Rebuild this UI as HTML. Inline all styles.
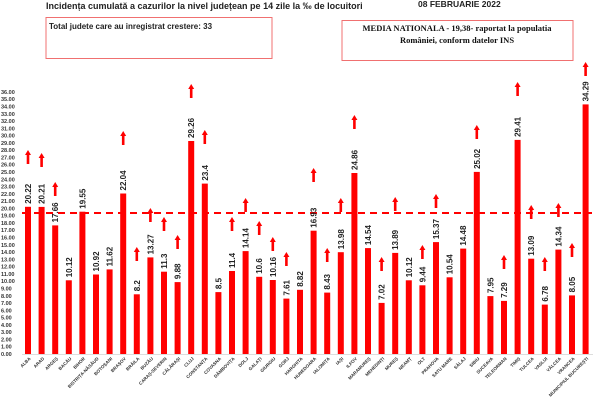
<!DOCTYPE html>
<html><head><meta charset="utf-8"><style>
html,body{margin:0;padding:0;background:#fff;}
svg{display:block;font-family:"Liberation Sans",sans-serif;}
.v{font-size:8px;font-weight:bold;fill:#222;}
.y{font-size:5.5px;font-weight:bold;fill:#333;}
.x{font-size:4.5px;font-weight:bold;fill:#333;}
</style></head><body>
<svg width="600" height="400" viewBox="0 0 600 400" xmlns="http://www.w3.org/2000/svg">
<defs>
<g id="ar"><rect x="-1.3" y="4" width="2.6" height="10" fill="#f00"/><path d="M-3,5 L0,0 L3,5 Z" fill="#f00"/></g>
</defs>
<text x="46" y="9" font-size="9" font-weight="bold" fill="#222">Incidența cumulată a cazurilor la nivel județean pe 14 zile la ‰ de locuitori</text>
<text x="418" y="7" font-size="8.5" font-weight="bold" fill="#222">08 FEBRUARIE 2022</text>
<rect x="46" y="17.5" width="226" height="41" fill="none" stroke="#f07070" stroke-width="1"/>
<text x="49" y="29" font-size="8" font-weight="bold" fill="#222">Total judete care au inregistrat crestere: 33</text>
<rect x="342" y="20.5" width="231" height="40" fill="none" stroke="#f07070" stroke-width="1"/>
<text x="457" y="31" font-size="8.5" font-weight="bold" fill="#111" text-anchor="middle" font-family="Liberation Serif, serif">MEDIA NATIONALA - 19,38-  raportat la populatia</text>
<text x="457" y="43" font-size="8.5" font-weight="bold" fill="#111" text-anchor="middle" font-family="Liberation Serif, serif">României, conform datelor INS</text>
<line x1="22" y1="354.5" x2="593" y2="354.5" stroke="#ddd" stroke-width="1"/>
<g class="y">
<text x="1" y="356">0.00</text><text x="1" y="348.7">1.00</text><text x="1" y="341.4">2.00</text><text x="1" y="334.2">3.00</text><text x="1" y="326.9">4.00</text><text x="1" y="319.6">5.00</text><text x="1" y="312.3">6.00</text><text x="1" y="305">7.00</text><text x="1" y="297.8">8.00</text><text x="1" y="290.5">9.00</text><text x="1" y="283.2">10.00</text><text x="1" y="275.9">11.00</text><text x="1" y="268.6">12.00</text><text x="1" y="261.4">13.00</text><text x="1" y="254.1">14.00</text><text x="1" y="246.8">15.00</text><text x="1" y="239.5">16.00</text><text x="1" y="232.2">17.00</text><text x="1" y="225">18.00</text><text x="1" y="217.7">19.00</text><text x="1" y="210.4">20.00</text><text x="1" y="203.1">21.00</text><text x="1" y="195.8">22.00</text><text x="1" y="188.6">23.00</text><text x="1" y="181.3">24.00</text><text x="1" y="174">25.00</text><text x="1" y="166.7">26.00</text><text x="1" y="159.4">27.00</text><text x="1" y="152.2">28.00</text><text x="1" y="144.9">29.00</text><text x="1" y="137.6">30.00</text><text x="1" y="130.3">31.00</text><text x="1" y="123">32.00</text><text x="1" y="115.8">33.00</text><text x="1" y="108.5">34.00</text><text x="1" y="101.2">35.00</text><text x="1" y="93.9">36.00</text>
</g>
<g fill="#f00">
<rect x="25" y="206.8" width="6" height="147.2"/><rect x="38.6" y="206.9" width="6" height="147.1"/><rect x="52.2" y="225.4" width="6" height="128.6"/><rect x="65.8" y="280.3" width="6" height="73.7"/><rect x="79.4" y="211.7" width="6" height="142.3"/><rect x="93" y="274.5" width="6" height="79.5"/><rect x="106.6" y="269.4" width="6" height="84.6"/><rect x="120.2" y="193.5" width="6" height="160.5"/><rect x="133.8" y="294.3" width="6" height="59.7"/><rect x="147.4" y="257.4" width="6" height="96.6"/><rect x="161" y="271.7" width="6" height="82.3"/><rect x="174.6" y="282.1" width="6" height="71.9"/><rect x="188.2" y="141" width="6" height="213"/><rect x="201.8" y="183.6" width="6" height="170.4"/><rect x="215.4" y="292.1" width="6" height="61.9"/><rect x="229" y="271" width="6" height="83"/><rect x="242.6" y="251.1" width="6" height="102.9"/><rect x="256.2" y="276.8" width="6" height="77.2"/><rect x="269.8" y="280" width="6" height="74"/><rect x="283.4" y="298.6" width="6" height="55.4"/><rect x="297" y="289.8" width="6" height="64.2"/><rect x="310.6" y="230.7" width="6" height="123.3"/><rect x="324.2" y="292.6" width="6" height="61.4"/><rect x="337.8" y="252.2" width="6" height="101.8"/><rect x="351.4" y="173" width="6" height="181"/><rect x="365" y="248.1" width="6" height="105.9"/><rect x="378.6" y="302.9" width="6" height="51.1"/><rect x="392.2" y="252.9" width="6" height="101.1"/><rect x="405.8" y="280.3" width="6" height="73.7"/><rect x="419.4" y="285.3" width="6" height="68.7"/><rect x="433" y="242.1" width="6" height="111.9"/><rect x="446.6" y="277.3" width="6" height="76.7"/><rect x="460.2" y="248.6" width="6" height="105.4"/><rect x="473.8" y="171.9" width="6" height="182.1"/><rect x="487.4" y="296.1" width="6" height="57.9"/><rect x="501" y="300.9" width="6" height="53.1"/><rect x="514.6" y="139.9" width="6" height="214.1"/><rect x="528.2" y="258.7" width="6" height="95.3"/><rect x="541.8" y="304.6" width="6" height="49.4"/><rect x="555.4" y="249.6" width="6" height="104.4"/><rect x="569" y="295.4" width="6" height="58.6"/><rect x="582.6" y="104.4" width="6" height="249.6"/>
</g>
<line x1="22" y1="213" x2="592" y2="213" stroke="#f00" stroke-width="2" stroke-dasharray="7,5"/>
<g>
<use href="#ar" x="28" y="150"/><use href="#ar" x="41.6" y="153"/><use href="#ar" x="55.2" y="182"/><use href="#ar" x="123.2" y="131"/><use href="#ar" x="136.8" y="247"/><use href="#ar" x="150.4" y="208"/><use href="#ar" x="164" y="217"/><use href="#ar" x="177.6" y="235"/><use href="#ar" x="191.2" y="84"/><use href="#ar" x="204.8" y="130"/><use href="#ar" x="232" y="217"/><use href="#ar" x="245.6" y="198"/><use href="#ar" x="259.2" y="221"/><use href="#ar" x="272.8" y="237"/><use href="#ar" x="286.4" y="252"/><use href="#ar" x="313.6" y="168"/><use href="#ar" x="327.2" y="248"/><use href="#ar" x="340.8" y="198"/><use href="#ar" x="354.4" y="115"/><use href="#ar" x="381.6" y="257"/><use href="#ar" x="395.2" y="197"/><use href="#ar" x="422.4" y="245"/><use href="#ar" x="436" y="194"/><use href="#ar" x="476.8" y="125"/><use href="#ar" x="504" y="255"/><use href="#ar" x="517.6" y="82"/><use href="#ar" x="531.2" y="205"/><use href="#ar" x="544.8" y="257"/><use href="#ar" x="558.4" y="203"/><use href="#ar" x="572" y="243"/><use href="#ar" x="585.6" y="62"/>
</g>
<g class="v">
<text transform="translate(31,203.8) rotate(-90)">20.22</text>
<text transform="translate(44.6,203.9) rotate(-90)">20.21</text>
<text transform="translate(58.2,222.4) rotate(-90)">17.66</text>
<text transform="translate(71.8,277.3) rotate(-90)">10.12</text>
<text transform="translate(85.4,208.7) rotate(-90)">19.55</text>
<text transform="translate(99,271.5) rotate(-90)">10.92</text>
<text transform="translate(112.6,266.4) rotate(-90)">11.62</text>
<text transform="translate(126.2,190.5) rotate(-90)">22.04</text>
<text transform="translate(139.8,291.3) rotate(-90)">8.2</text>
<text transform="translate(153.4,254.4) rotate(-90)">13.27</text>
<text transform="translate(167,268.7) rotate(-90)">11.3</text>
<text transform="translate(180.6,279.1) rotate(-90)">9.88</text>
<text transform="translate(194.2,138) rotate(-90)">29.26</text>
<text transform="translate(207.8,180.6) rotate(-90)">23.4</text>
<text transform="translate(221.4,289.1) rotate(-90)">8.5</text>
<text transform="translate(235,268) rotate(-90)">11.4</text>
<text transform="translate(248.6,248.1) rotate(-90)">14.14</text>
<text transform="translate(262.2,273.8) rotate(-90)">10.6</text>
<text transform="translate(275.8,277) rotate(-90)">10.16</text>
<text transform="translate(289.4,295.6) rotate(-90)">7.61</text>
<text transform="translate(303,286.8) rotate(-90)">8.82</text>
<text transform="translate(316.6,227.7) rotate(-90)">16.93</text>
<text transform="translate(330.2,289.6) rotate(-90)">8.43</text>
<text transform="translate(343.8,249.2) rotate(-90)">13.98</text>
<text transform="translate(357.4,170) rotate(-90)">24.86</text>
<text transform="translate(371,245.1) rotate(-90)">14.54</text>
<text transform="translate(384.6,299.9) rotate(-90)">7.02</text>
<text transform="translate(398.2,249.9) rotate(-90)">13.89</text>
<text transform="translate(411.8,277.3) rotate(-90)">10.12</text>
<text transform="translate(425.4,282.3) rotate(-90)">9.44</text>
<text transform="translate(439,239.1) rotate(-90)">15.37</text>
<text transform="translate(452.6,274.3) rotate(-90)">10.54</text>
<text transform="translate(466.2,245.6) rotate(-90)">14.48</text>
<text transform="translate(479.8,168.9) rotate(-90)">25.02</text>
<text transform="translate(493.4,293.1) rotate(-90)">7.95</text>
<text transform="translate(507,297.9) rotate(-90)">7.29</text>
<text transform="translate(520.6,136.9) rotate(-90)">29.41</text>
<text transform="translate(534.2,255.7) rotate(-90)">13.09</text>
<text transform="translate(547.8,301.6) rotate(-90)">6.78</text>
<text transform="translate(561.4,246.6) rotate(-90)">14.34</text>
<text transform="translate(575,292.4) rotate(-90)">8.05</text>
<text transform="translate(588.6,101.4) rotate(-90)">34.29</text>
</g>
<g class="x" text-anchor="end">
<text transform="translate(31,359) rotate(-45)">ALBA</text>
<text transform="translate(44.6,359) rotate(-45)">ARAD</text>
<text transform="translate(58.2,359) rotate(-45)">ARGEȘ</text>
<text transform="translate(71.8,359) rotate(-45)">BACĂU</text>
<text transform="translate(85.4,359) rotate(-45)">BIHOR</text>
<text transform="translate(99,359) rotate(-45)">BISTRIȚA-NĂSĂUD</text>
<text transform="translate(112.6,359) rotate(-45)">BOTOȘANI</text>
<text transform="translate(126.2,359) rotate(-45)">BRAȘOV</text>
<text transform="translate(139.8,359) rotate(-45)">BRĂILA</text>
<text transform="translate(153.4,359) rotate(-45)">BUZĂU</text>
<text transform="translate(167,359) rotate(-45)">CARAȘ-SEVERIN</text>
<text transform="translate(180.6,359) rotate(-45)">CĂLĂRAȘI</text>
<text transform="translate(194.2,359) rotate(-45)">CLUJ</text>
<text transform="translate(207.8,359) rotate(-45)">CONSTANȚA</text>
<text transform="translate(221.4,359) rotate(-45)">COVASNA</text>
<text transform="translate(235,359) rotate(-45)">DÂMBOVIȚA</text>
<text transform="translate(248.6,359) rotate(-45)">DOLJ</text>
<text transform="translate(262.2,359) rotate(-45)">GALAȚI</text>
<text transform="translate(275.8,359) rotate(-45)">GIURGIU</text>
<text transform="translate(289.4,359) rotate(-45)">GORJ</text>
<text transform="translate(303,359) rotate(-45)">HARGHITA</text>
<text transform="translate(316.6,359) rotate(-45)">HUNEDOARA</text>
<text transform="translate(330.2,359) rotate(-45)">IALOMIȚA</text>
<text transform="translate(343.8,359) rotate(-45)">IAȘI</text>
<text transform="translate(357.4,359) rotate(-45)">ILFOV</text>
<text transform="translate(371,359) rotate(-45)">MARAMUREȘ</text>
<text transform="translate(384.6,359) rotate(-45)">MEHEDINȚI</text>
<text transform="translate(398.2,359) rotate(-45)">MUREȘ</text>
<text transform="translate(411.8,359) rotate(-45)">NEAMȚ</text>
<text transform="translate(425.4,359) rotate(-45)">OLT</text>
<text transform="translate(439,359) rotate(-45)">PRAHOVA</text>
<text transform="translate(452.6,359) rotate(-45)">SATU MARE</text>
<text transform="translate(466.2,359) rotate(-45)">SĂLAJ</text>
<text transform="translate(479.8,359) rotate(-45)">SIBIU</text>
<text transform="translate(493.4,359) rotate(-45)">SUCEAVA</text>
<text transform="translate(507,359) rotate(-45)">TELEORMAN</text>
<text transform="translate(520.6,359) rotate(-45)">TIMIȘ</text>
<text transform="translate(534.2,359) rotate(-45)">TULCEA</text>
<text transform="translate(547.8,359) rotate(-45)">VASLUI</text>
<text transform="translate(561.4,359) rotate(-45)">VÂLCEA</text>
<text transform="translate(575,359) rotate(-45)">VRANCEA</text>
<text transform="translate(588.6,359) rotate(-45)">MUNICIPIUL BUCUREȘTI</text>
</g>
</svg>
</body></html>
